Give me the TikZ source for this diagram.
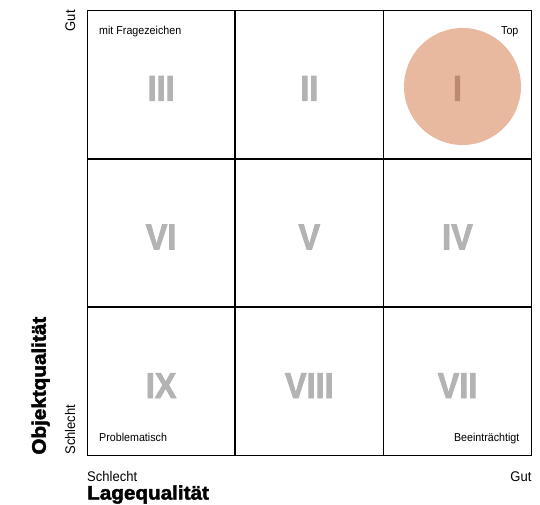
\documentclass[tikz,border=0pt]{standalone}
\usepackage{fontspec}
\setmainfont{Liberation Sans}[FakeStretch=0.93]
\newfontfamily\numfont{Liberation Sans Bold}[FakeStretch=0.9, FakeBold=2.2]
\newfontfamily\titlefont{Liberation Sans Bold}[FakeStretch=1.06, FakeBold=2.2]
\usepackage{xcolor}
\usepackage{tikz}
\usetikzlibrary{positioning}

\definecolor{romangray}{HTML}{B3B3B3}
\definecolor{topfill}{HTML}{E8B99E}
\definecolor{topnum}{HTML}{BE8A6F}

\begin{document}
\begin{tikzpicture}[
    x=1pt, y=-1pt,
    node distance=0pt,
    cell/.style={rectangle, draw, line width=0.9pt, minimum width=147.3pt, minimum height=147.7pt, inner sep=0pt,
        text height=33pt, text depth=0pt, text=romangray, font=\numfont\fontsize{36}{36}\selectfont},
    tag/.style={inner sep=0pt, font=\fontsize{11.5}{11.5}\selectfont},
    axis/.style={inner sep=0pt, font=\fontsize{14}{14}\selectfont},
    title/.style={inner sep=0pt, font=\titlefont\fontsize{19.5}{19.5}\selectfont}
]
\useasboundingbox (0,0) rectangle (540,505);

% Top circle (behind the grid)
\node[circle, fill=topfill, minimum size=117pt, inner sep=0pt] (topdot) at (462.5,86.5) {};

% First row
\node[cell, anchor=north west] (c3) at (87,10) {III};
\node[cell, right=of c3] (c2) {II};
\node[cell, right=of c2, text=topnum] (c1) {I};

% Second row
\node[cell, below=of c3] (c6) {VI};
\node[cell, right=of c6] (c5) {V};
\node[cell, right=of c5] (c4) {IV};

% Third row
\node[cell, below=of c6] (c9) {IX};
\node[cell, right=of c9] (c8) {VIII};
\node[cell, right=of c8] (c7) {VII};

% Corner tags
\node[tag, anchor=base west] (quest) at ([shift={(12,24.3)}]c3.north west) {mit Fragezeichen};
\node[tag, anchor=base east] (top) at ([shift={(-13,24.3)}]c1.north east) {Top};
\node[tag, anchor=base west] (probl) at ([shift={(12,-14)}]c9.south west) {Problematisch};
\node[tag, anchor=base east] (beein) at ([shift={(-12,-14)}]c7.south east) {Beeinträchtigt};

% Vertical axis
\node[axis, rotate=90, anchor=base east] (ygood) at ([shift={(-12,0)}]c3.north west) {Gut};
\node[axis, rotate=90, anchor=base west] (ybad) at ([shift={(-12,-1)}]c9.south west) {Schlecht};
\node[title, rotate=90, anchor=base west] (ytitle) at ([shift={(-41.3,-1)}]c9.south west) {Objektqualität};

% Horizontal axis
\node[axis, anchor=base west] (xbad) at ([shift={(0,25.3)}]c9.south west) {Schlecht};
\node[axis, anchor=base east] (xgood) at ([shift={(0,25.3)}]c7.south east) {Gut};
\node[title, anchor=base west] (xtitle) at ([shift={(0,43.7)}]c9.south west) {Lagequalität};

\end{tikzpicture}
\end{document}
